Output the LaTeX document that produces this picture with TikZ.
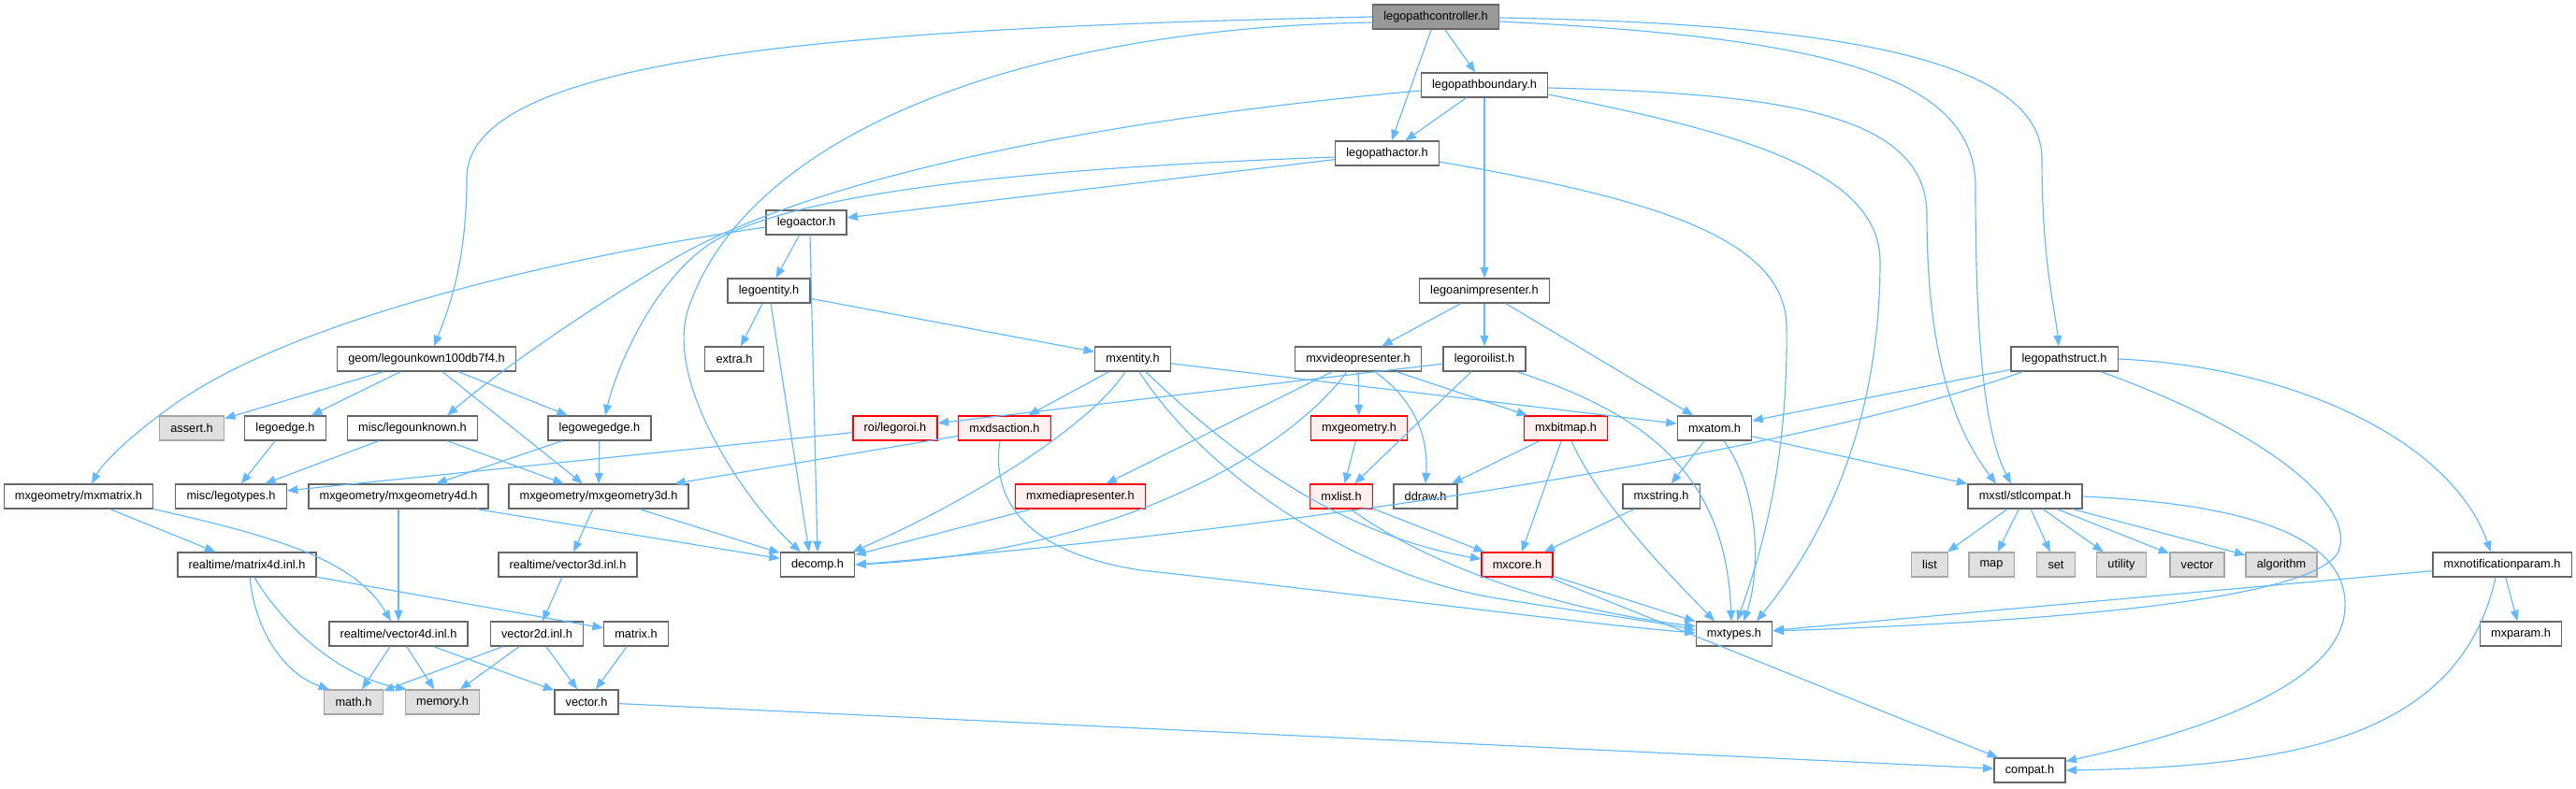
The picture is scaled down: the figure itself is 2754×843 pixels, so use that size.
\documentclass[tikz,border=0pt]{standalone}
\usepackage{fontspec}
\setmainfont{Liberation Sans}
\usetikzlibrary{arrows.meta,calc}
\definecolor{edgeblue}{HTML}{63B8FF}
\definecolor{boxline}{HTML}{666666}
\definecolor{rootgray}{HTML}{999999}
\definecolor{sysline}{HTML}{A6A6A6}
\definecolor{sysgray}{HTML}{E0E0E0}
\definecolor{truncline}{HTML}{FF0000}
\definecolor{truncpink}{HTML}{FFF0F0}
\begin{document}
\begin{tikzpicture}[x=0.784pt,y=-0.784pt,>={Triangle[length=9pt,width=7pt]},
    hfile/.style={draw=boxline,fill=white,line width=1pt,minimum height=20.4pt,inner xsep=9.2pt,inner ysep=0pt},
    rootfile/.style={hfile,fill=rootgray},
    sysfile/.style={hfile,draw=sysline,fill=sysgray},
    truncfile/.style={hfile,draw=truncline,fill=truncpink},
    dep/.style={->,draw=edgeblue,line width=0.9pt}]
        \useasboundingbox (0,0) rectangle (2754,843);
        \node[rootfile] (ctrl) at (1535,18) {legopathcontroller.h};
        \node[hfile] (boundary) at (1587,91) {legopathboundary.h};
        \node[hfile] (pathactor) at (1483,164) {legopathactor.h};
        \node[hfile] (actor) at (862,238) {legoactor.h};
        \node[hfile] (entity) at (822,311) {legoentity.h};
        \node[hfile] (animpres) at (1587,311) {legoanimpresenter.h};
        \node[hfile] (geom) at (456,384) {geom/legounkown100db7f4.h};
        \node[hfile] (extra) at (785,384) {extra.h};
        \node[hfile] (mxentity) at (1211,384) {mxentity.h};
        \node[hfile] (vidpres) at (1452,384) {mxvideopresenter.h};
        \node[hfile] (roilist) at (1587,384) {legoroilist.h};
        \node[hfile] (pathstruct) at (2207,384) {legopathstruct.h};
        \node[sysfile] (assert) at (205,458) {assert.h};
        \node[hfile] (legoedge) at (305,458) {legoedge.h};
        \node[hfile] (unknown) at (441,458) {misc/legounknown.h};
        \node[hfile] (wegedge) at (641,458) {legowegedge.h};
        \node[truncfile] (legoroi) at (957,458) {roi/legoroi.h};
        \node[truncfile] (dsaction) at (1074,458) {mxdsaction.h};
        \node[truncfile] (mxgeom) at (1453,458) {mxgeometry.h};
        \node[truncfile] (bitmap) at (1674,458) {mxbitmap.h};
        \node[hfile] (atom) at (1833,458) {mxatom.h};
        \node[hfile] (mxmatrix) at (84,531) {mxgeometry/mxmatrix.h};
        \node[hfile] (legotypes) at (247,531) {misc/legotypes.h};
        \node[hfile] (geom4d) at (426,531) {mxgeometry/mxgeometry4d.h};
        \node[hfile] (geom3d) at (640,531) {mxgeometry/mxgeometry3d.h};
        \node[truncfile] (mediapres) at (1155,531) {mxmediapresenter.h};
        \node[truncfile] (mxlist) at (1434,531) {mxlist.h};
        \node[hfile] (ddraw) at (1524,531) {ddraw.h};
        \node[hfile] (mxstring) at (1776,531) {mxstring.h};
        \node[hfile] (stlcompat) at (2165,531) {mxstl/stlcompat.h};
        \node[hfile] (matrix4d) at (264,604) {realtime/matrix4d.inl.h};
        \node[hfile] (vector3d) at (607,604) {realtime/vector3d.inl.h};
        \node[hfile] (decomp) at (874,604) {decomp.h};
        \node[truncfile] (mxcore) at (1622,604) {mxcore.h};
        \node[hfile] (notifparam) at (2675,604) {mxnotificationparam.h};
        \node[hfile] (vector4d) at (426,678) {realtime/vector4d.inl.h};
        \node[hfile] (vector2d) at (574,678) {vector2d.inl.h};
        \node[hfile] (matrixh) at (680,678) {matrix.h};
        \node[hfile] (mxtypes) at (1854,678) {mxtypes.h};
        \node[hfile] (mxparam) at (2695,678) {mxparam.h};
        \node[sysfile] (math) at (378,751) {math.h};
        \node[sysfile] (memory) at (473,751) {memory.h};
        \node[hfile] (vectorh) at (627,751) {vector.h};
        \node[hfile] (compat) at (2170,824) {compat.h};
        \foreach \hdr/\x in {list/2063,map/2129,set/2198,utility/2268,vector/2349,algorithm/2439}{
            \node[sysfile] (\hdr) at (\x,604) {\hdr};
            \draw[dep] (stlcompat) -- (\hdr);
        }
        % legopathcontroller.h
        \draw[dep] (ctrl) -- (boundary);
        \draw[dep] (ctrl) -- (pathactor);
        \draw[dep] (ctrl.west) .. controls (900,30) and (500,60) .. (499,190) .. controls (499,280) and (480,330) .. ($(geom.north)+(8,0)$);
        \draw[dep] ($(ctrl.west)+(0,6)$) .. controls (1100,30) and (800,140) .. (736,330) .. controls (709,410) and (800,540) .. ($(decomp.north)+(-18,0)$);
        \draw[dep] ($(ctrl.east)+(0,5)$) .. controls (1950,40) and (2112,80) .. (2112,200) .. controls (2112,350) and (2120,460) .. ($(stlcompat.north)+(-15,0)$);
        \draw[dep] ($(ctrl.east)+(0,1)$) .. controls (1950,25) and (2183,60) .. (2183,170) .. controls (2183,280) and (2197,330) .. ($(pathstruct.north)+(-6,0)$);
        % legopathboundary.h, legopathactor.h
        \draw[dep] (boundary) -- (pathactor);
        \draw[dep] (boundary) -- (animpres);
        \draw[dep] ($(boundary.west)+(0,6)$) .. controls (1150,130) and (860,195) .. (720,277) .. controls (620,336) and (530,400) .. ($(unknown.north)+(37,0)$);
        \draw[dep] ($(boundary.east)+(0,3)$) .. controls (1900,100) and (2060,120) .. (2060,230) .. controls (2060,380) and (2090,460) .. ($(stlcompat.north)+(-31,0)$);
        \draw[dep] ($(boundary.east)+(0,10)$) .. controls (1850,140) and (2010,180) .. (2010,280) .. controls (2010,480) and (1930,600) .. ($(mxtypes.north)+(24,0)$);
        \draw[dep] (pathactor) -- (actor);
        \draw[dep] ($(pathactor.west)+(0,4)$) .. controls (1100,180) and (850,205) .. (760,260) .. controls (700,300) and (660,390) .. ($(wegedge.north)+(6,0)$);
        \draw[dep] ($(pathactor.east)+(0,9)$) .. controls (1750,210) and (1910,250) .. (1910,350) .. controls (1912,500) and (1880,600) .. ($(mxtypes.north)+(3,0)$);
        \draw[dep] (actor) -- (entity);
        \draw[dep] ($(actor.south)+(4,0)$) -- (decomp.north);
        \draw[dep] ($(actor.west)+(0,5)$) .. controls (600,275) and (320,340) .. (190,430) .. controls (140,465) and (110,495) .. ($(mxmatrix.north)+(14,0)$);
        \draw[dep] (entity) -- (extra);
        \draw[dep] (entity) -- ($(decomp.north)+(-9,0)$);
        \draw[dep] (entity) -- (mxentity);
        \draw[dep] (animpres) -- (vidpres);
        \draw[dep] (animpres) -- (roilist);
        \draw[dep] (animpres) -- (atom);
        % geometry headers
        \draw[dep] (geom) -- (assert);
        \draw[dep] (geom) -- (legoedge);
        \draw[dep] (geom) -- (geom3d);
        \draw[dep] (geom) -- (wegedge);
        \draw[dep] (legoedge) -- (legotypes);
        \draw[dep] (unknown) -- (legotypes);
        \draw[dep] (unknown) -- (geom3d);
        \draw[dep] (wegedge) -- (geom4d);
        \draw[dep] (wegedge) -- (geom3d);
        \draw[dep] (legoroi) -- (legotypes);
        \draw[dep] (dsaction) -- (geom3d);
        \draw[dep] ($(dsaction.south)+(-5,0)$) .. controls (1060,530) and (1090,590) .. (1220,610) .. controls (1450,635) and (1700,668) .. ($(mxtypes.west)+(0,-1)$);
        % mx headers
        \draw[dep] (mxentity) -- (dsaction);
        \draw[dep] ($(mxentity.south)+(-8,0)$) .. controls (1170,450) and (1050,530) .. ($(decomp.north east)+(-3,0)$);
        \draw[dep] (mxentity) -- (atom);
        \draw[dep] ($(mxentity.south)+(14,0)$) .. controls (1300,470) and (1420,570) .. ($(mxcore.west)+(0,-6)$);
        \draw[dep] ($(mxentity.south)+(7,0)$) .. controls (1290,510) and (1450,615) .. (1600,640) .. controls (1700,656) and (1770,665) .. ($(mxtypes.west)+(0,-4)$);
        \draw[dep] (vidpres) -- (mediapres);
        \draw[dep] ($(vidpres.south)+(-12,0)$) .. controls (1380,480) and (1200,590) .. (decomp.east);
        \draw[dep] (vidpres) -- (mxgeom);
        \draw[dep] ($(vidpres.south)+(18,0)$) .. controls (1515,430) and (1527,470) .. (ddraw.north);
        \draw[dep] (vidpres) -- (bitmap);
        \draw[dep] (roilist) -- (legoroi);
        \draw[dep] (roilist) -- (mxlist);
        \draw[dep] ($(roilist.south)+(35,0)$) .. controls (1750,440) and (1845,500) .. ($(mxtypes.north)+(-3,0)$);
        \draw[dep] (mxgeom) -- (mxlist);
        \draw[dep] (bitmap) -- (ddraw);
        \draw[dep] (bitmap) -- (mxcore);
        \draw[dep] ($(bitmap.south)+(6,0)$) .. controls (1710,540) and (1790,620) .. ($(mxtypes.north)+(-21,0)$);
        \draw[dep] (atom) -- (mxstring);
        \draw[dep] ($(atom.south)+(10,0)$) .. controls (1885,530) and (1880,620) .. ($(mxtypes.north)+(10,0)$);
        \draw[dep] (atom) -- (stlcompat);
        \draw[dep] (mxlist) -- (mxcore);
        \draw[dep] ($(mxlist.south)+(10,0)$) .. controls (1520,600) and (1650,650) .. ($(mxtypes.west)+(0,-8)$);
        \draw[dep] (mxstring) -- (mxcore);
        \draw[dep] (mxcore) -- (mxtypes);
        \draw[dep] (mxcore) -- (compat);
        \draw[dep] (mediapres) -- (decomp);
        % realtime headers
        \draw[dep] (mxmatrix) -- (matrix4d);
        \draw[dep] (mxmatrix.south east) .. controls (300,575) and (380,600) .. ($(vector4d.north)+(-8,0)$);
        \draw[dep] (geom4d) -- (vector4d);
        \draw[dep] (geom4d) -- (decomp);
        \draw[dep] (geom3d) -- (vector3d);
        \draw[dep] (geom3d) -- (decomp);
        \draw[dep] ($(matrix4d.south)+(3,0)$) .. controls (275,690) and (315,725) .. ($(math.north west)+(6,0)$);
        \draw[dep] ($(matrix4d.south)+(8,0)$) .. controls (310,680) and (370,725) .. ($(memory.north west)+(2,0)$);
        \draw[dep] (matrix4d) -- (matrixh);
        \draw[dep] (vector4d) -- (math);
        \draw[dep] (vector4d) -- (memory);
        \draw[dep] (vector4d) -- (vectorh);
        \draw[dep] (vector3d) -- (vector2d);
        \draw[dep] (vector2d) -- (math);
        \draw[dep] (vector2d) -- (memory);
        \draw[dep] (vector2d) -- (vectorh);
        \draw[dep] (matrixh) -- (vectorh);
        \draw[dep] (vectorh) -- (compat);
        % legopathstruct.h and the rest
        \draw[dep] (pathstruct) -- (atom);
        \draw[dep] ($(pathstruct.south west)+(13,0)$) .. controls (1950,475) and (1450,560) .. (decomp.east);
        \draw[dep] ($(pathstruct.south)+(39,0)$) .. controls (2420,460) and (2520,540) .. (2500,590) .. controls (2470,650) and (2100,668) .. ($(mxtypes.east)+(0,-3)$);
        \draw[dep] (pathstruct.east) .. controls (2450,392) and (2620,470) .. ($(notifparam.north)+(-12,0)$);
        \draw[dep] (stlcompat.east) .. controls (2420,540) and (2510,580) .. (2507,650) .. controls (2504,740) and (2320,790) .. ($(compat.north east)+(0,4)$);
        \draw[dep] (notifparam) -- (mxtypes);
        \draw[dep] (notifparam) -- (mxparam);
        \draw[dep] ($(notifparam.south)+(-7,0)$) .. controls (2630,790) and (2450,820) .. (compat.east);
\end{tikzpicture}
\end{document}
